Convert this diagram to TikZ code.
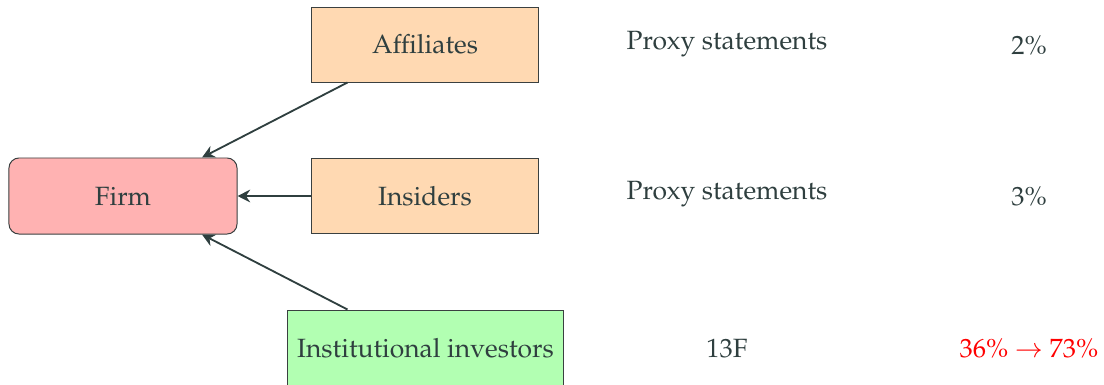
\documentclass[tikz,border=0pt]{standalone}
\usepackage[T1]{fontenc}
\usepackage{mathpazo}
\usetikzlibrary{arrows.meta,calc}
\definecolor{txt}{HTML}{2F3F3F}
\definecolor{edge}{HTML}{3A4040}
\tikzset{
  box/.style={draw=edge, line width=0.7pt, text=txt, inner sep=0pt, font=\fontsize{18.8}{22}\selectfont},
  lbl/.style={text=txt, inner sep=0pt, font=\fontsize{18.8}{22}\selectfont},
  conn/.style={draw=txt, line width=1.3pt, -{Stealth[length=9pt,width=9pt,inset=3pt]}}
}
\begin{document}
\begin{tikzpicture}[x=0.025cm,y=-0.025cm]
\useasboundingbox (0,0) rectangle (1104,384);
\node[box, fill=red!30, rounded corners=0.25cm, minimum width=5.7cm, minimum height=1.9cm] (firm) at (123,196) {Firm};
\node[box, fill=orange!30, minimum width=5.65cm, minimum height=1.875cm] (aff) at (425,44.5) {Affiliates};
\node[box, fill=orange!30, minimum width=5.65cm, minimum height=1.875cm] (ins) at (425,196) {Insiders};
\node[box, fill=green!30, minimum width=6.875cm, minimum height=1.9cm] (inst) at (425.5,348) {Institutional investors};
\node[lbl] (p1) at (727,44.5) {Proxy statements};
\node[lbl] (v1) at (1029,46) {2\%};
\node[lbl] (p2) at (727,194.5) {Proxy statements};
\node[lbl] (v2) at (1029,197) {3\%};
\node[lbl] (p3) at (727,349) {13F};
\node[lbl, text=red] (v3) at (1029,349) {36\% $\rightarrow$ 73\%};
\draw[conn] ([xshift=0.9cm]aff.south west) -- ([xshift=1.975cm]firm.north);
\draw[conn] (ins.west) -- (firm.east);
\draw[conn] ([xshift=1.5cm]inst.north west) -- ([xshift=1.975cm]firm.south);
\end{tikzpicture}
\end{document}
